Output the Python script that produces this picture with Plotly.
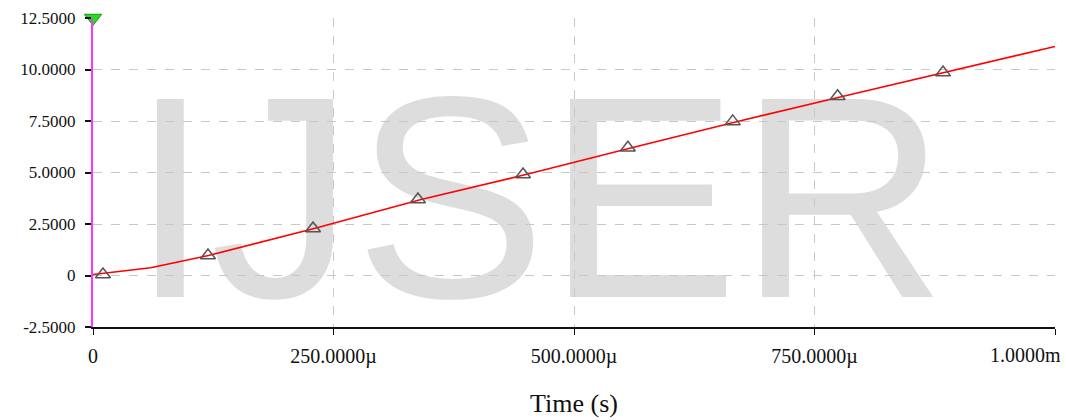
import plotly.graph_objects as go

# Trace values (time in seconds, voltage)
line_t = [0, 60e-6, 120e-6, 230e-6, 340e-6, 450e-6, 560e-6, 670e-6, 780e-6, 890e-6, 1000e-6]
line_v = [0.05, 0.38, 0.97, 2.28, 3.68, 4.90, 6.20, 7.48, 8.70, 9.90, 11.12]

marker_t = [10.4e-6, 119.5e-6, 228.7e-6, 337.8e-6, 447e-6, 556e-6, 665e-6, 774e-6, 883.6e-6]
marker_v = [0.05, 0.97, 2.28, 3.69, 4.90, 6.20, 7.48, 8.70, 9.85]

cursor_t = [0]
cursor_v = [12.5]

x_tickvals = [0, 250e-6, 500e-6, 750e-6, 1000e-6]
x_ticktext = ["0", "250.0000µ", "500.0000µ", "750.0000µ", ""]
x_last_label = "1.0000m"
y_tickvals = [-2.5, 0, 2.5, 5.0, 7.5, 10.0, 12.5]
y_ticktext = ["-2.5000", "0", "2.5000", "5.0000", "7.5000", "10.0000", "12.5000"]

watermark = "IJSER"

serif = "Liberation Serif, Times New Roman, serif"

fig = go.Figure()

# watermark (behind the data)
fig.add_trace(go.Scatter(
    x=[0.463e-3], y=[2.45], mode="text", text=[watermark],
    textfont=dict(family="Liberation Sans, Arial, sans-serif", size=288, color="rgba(200,200,200,0.62)"),
    hoverinfo="skip", showlegend=False, cliponaxis=False,
))

fig.add_trace(go.Scatter(
    x=line_t, y=line_v, mode="lines",
    line=dict(color="#ff0000", width=1.6), showlegend=False,
))

fig.add_trace(go.Scatter(
    x=marker_t, y=marker_v, mode="markers",
    marker=dict(symbol="triangle-up-open", size=13, color="#555555", line=dict(width=1.5, color="#555555")),
    showlegend=False,
))

fig.add_trace(go.Scatter(
    x=cursor_t, y=cursor_v, mode="markers",
    marker=dict(symbol="triangle-down", size=15, color="#22dd22", line=dict(width=1, color="#119911")),
    showlegend=False, cliponaxis=False,
))

fig.update_layout(
    width=1066, height=420,
    margin=dict(l=93, r=11, t=18, b=93),
    paper_bgcolor="white", plot_bgcolor="white",
    font=dict(family=serif, size=17, color="#111111"),
    annotations=[dict(
        text=x_last_label, xref="paper", yref="paper", x=1.0, y=0, xshift=8, yshift=-28,
        xanchor="right", yanchor="middle", showarrow=False,
        font=dict(family=serif, size=20, color="#111111"),
    )],
)

fig.update_xaxes(
    range=[0, 1000e-6], automargin=False,
    tickvals=x_tickvals, ticktext=x_ticktext,
    tickfont=dict(size=20),
    showgrid=True, gridcolor="#c8c8c8", griddash="dash", gridwidth=1,
    showline=True, linecolor="#111111", linewidth=2,
    ticks="outside", ticklen=6, tickcolor="#111111", tickwidth=1,
    ticklabelstandoff=4,
    zeroline=False,
    title=dict(text="Time (s)", font=dict(family=serif, size=26), standoff=27),
)

fig.update_yaxes(
    range=[-2.5, 12.5], automargin=False,
    tickvals=y_tickvals, ticktext=y_ticktext,
    showgrid=True, gridcolor="#c8c8c8", griddash="dash", gridwidth=1,
    showline=True, linecolor="#ff33ff", linewidth=2,
    ticks="outside", ticklen=6, tickcolor="#111111", tickwidth=2,
    ticklabelstandoff=6,
    zeroline=False,
)

fig.write_html("out.html")
